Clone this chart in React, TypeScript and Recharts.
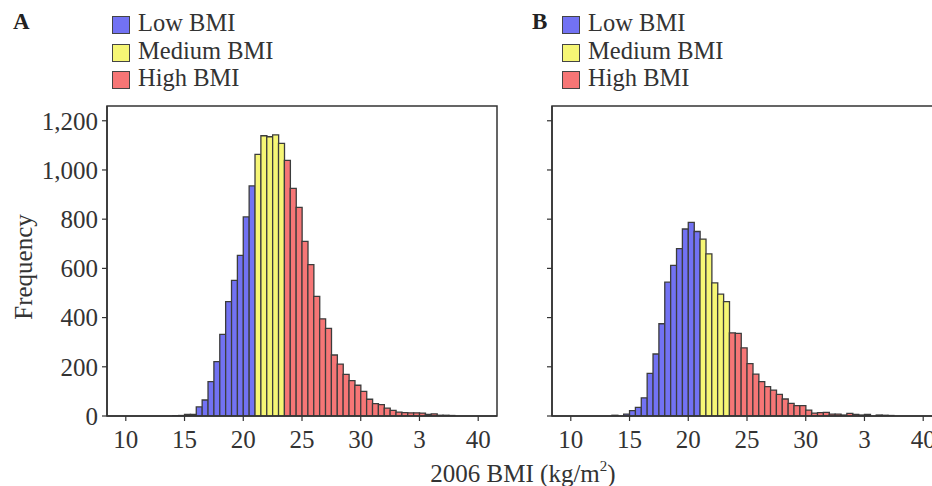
import React from 'react';
import { BarChart, Bar, XAxis, YAxis, Cell, ReferenceArea } from 'recharts';

// left edge of each 0.5-unit BMI bin
const binStarts = [
  13.5, 14, 14.5, 15, 15.5, 16, 16.5, 17, 17.5, 18, 18.5, 19, 19.5, 20, 20.5, 21, 21.5,
  22, 22.5, 23, 23.5, 24, 24.5, 25, 25.5, 26, 26.5, 27, 27.5, 28, 28.5, 29, 29.5, 30,
  30.5, 31, 31.5, 32, 32.5, 33, 33.5, 34, 34.5, 35, 35.5, 36, 36.5, 37, 37.5
];

const countsA = [
  0, 1, 2, 6, 6, 37, 65, 140, 221, 332, 465, 551, 653, 809, 935, 1063, 1139,
  1135, 1143, 1108, 1039, 925, 848, 710, 615, 486, 395, 356, 248, 211, 169, 144, 125, 100,
  68, 50, 46, 32, 23, 16, 14, 13, 13, 12, 6, 9, 3, 3, 2
];

const countsB = [
  3, 0, 8, 22, 35, 74, 173, 252, 375, 544, 612, 680, 760, 787, 750, 719, 659,
  541, 495, 465, 338, 336, 277, 213, 170, 140, 119, 105, 88, 69, 51, 42, 42, 24,
  12, 14, 15, 8, 8, 4, 11, 7, 4, 6, 0, 4, 3, 2, 0
];

const groupNames = ['Low BMI', 'Medium BMI', 'High BMI'];
const groupColors = ['#7272f3', '#f6f675', '#f67676'];
const groupCuts = [21, 23.5]; // bins starting here begin Medium / High

const xTicks = [10, 15, 20, 25, 30, 35, 40];
const xTickLabels = ['10', '15', '20', '25', '30', '3', '40'];
const yTicks = [0, 200, 400, 600, 800, 1000, 1200];
const yTickLabels = ['0', '200', '400', '600', '800', '1,000', '1,200'];
const xDomain = [8.4, 41.6];
const yDomain = [0, 1260];
const binWidth = 0.5;

const FONT = "'Liberation Serif', 'Times New Roman', serif";
const INK = '#333';

const groupOf = (start: number) => (start >= groupCuts[1] ? 2 : start >= groupCuts[0] ? 1 : 0);

const buildRows = (counts: number[]) =>
  binStarts.map((s, i) => ({ x: s + binWidth / 2, count: counts[i], group: groupOf(s) }));

const Legend = ({ letter, left }: { letter: string; left: number }) => (
  <>
    <div
      style={{
        position: 'absolute', left: left, top: 10, fontFamily: FONT, fontWeight: 'bold',
        fontSize: 23, lineHeight: 1, color: '#222'
      }}
    >
      {letter}
    </div>
    {groupNames.map((name, i) => (
      <div key={name} style={{ position: 'absolute', left: left + (letter === 'A' ? 99 : 30), top: 11 + i * 27.5 }}>
        <div
          style={{
            position: 'absolute', left: 0, top: 5, width: 18, height: 18, boxSizing: 'border-box',
            background: groupColors[i], border: '1.5px solid #444'
          }}
        />
        <div
          style={{
            position: 'absolute', left: 26, top: 0, whiteSpace: 'nowrap', fontFamily: FONT,
            fontSize: 24.5, lineHeight: 1, color: INK
          }}
        >
          {name}
        </div>
      </div>
    ))}
  </>
);

const Panel = ({ counts, left, yLabels }: { counts: number[]; left: number; yLabels: boolean }) => {
  const rows = buildRows(counts);
  return (
    <div style={{ position: 'absolute', left, top: 0 }}>
      <BarChart
        width={500}
        height={465}
        data={rows}
        margin={{ top: 106, right: 3, bottom: 4, left: 47 }}
        barCategoryGap={0}
        barGap={0}
      >
        <XAxis
          dataKey="x"
          type="number"
          domain={xDomain}
          allowDataOverflow
          ticks={xTicks}
          tickFormatter={(v: number) => xTickLabels[xTicks.indexOf(v)]}
          height={45}
          tickSize={5}
          tickMargin={9}
          axisLine={{ stroke: INK, strokeWidth: 1.5 }}
          tickLine={{ stroke: INK, strokeWidth: 1.2 }}
          tick={{ fill: INK, fontFamily: FONT, fontSize: 25 }}
          interval={0}
        />
        <YAxis
          type="number"
          domain={yDomain}
          allowDataOverflow
          ticks={yTicks}
          tickFormatter={(v: number) => (yLabels ? yTickLabels[yTicks.indexOf(v)] : '')}
          width={60}
          tickSize={5}
          tickMargin={4}
          axisLine={{ stroke: INK, strokeWidth: 1.5 }}
          tickLine={{ stroke: INK, strokeWidth: 1.2 }}
          tick={{ fill: INK, fontFamily: FONT, fontSize: 25 }}
          interval={0}
        />
        <ReferenceArea
          x1={xDomain[0]}
          x2={xDomain[1]}
          y1={yDomain[0]}
          y2={yDomain[1]}
          fill="none"
          stroke={INK}
          strokeWidth={1.5}
          ifOverflow="visible"
        />
        <Bar dataKey="count" stroke="#3c3c3c" strokeWidth={1.3} isAnimationActive={false}>
          {rows.map((r, i) => (
            <Cell key={`c-${i}`} fill={groupColors[r.group]} />
          ))}
        </Bar>
      </BarChart>
    </div>
  );
};

export default function App() {
  return (
    <div
      style={{
        position: 'absolute', left: 0, top: 0, width: 932, height: 486, overflow: 'hidden',
        background: '#fff'
      }}
    >
      <Legend letter="A" left={13} />
      <Legend letter="B" left={532} />
      <Panel counts={countsA} left={0} yLabels />
      <Panel counts={countsB} left={445} yLabels={false} />
      <div
        style={{
          position: 'absolute', left: 23, top: 267, transform: 'translate(-50%, -50%) rotate(-90deg)',
          fontFamily: FONT, fontSize: 25, lineHeight: 1, color: INK, whiteSpace: 'nowrap'
        }}
      >
        Frequency
      </div>
      <div
        style={{
          position: 'absolute', left: 523, top: 461, transform: 'translateX(-50%)',
          fontFamily: FONT, fontSize: 25, lineHeight: 1, color: INK, whiteSpace: 'nowrap'
        }}
      >
        2006 BMI (kg/m<sup style={{ fontSize: 15, verticalAlign: 'top', position: 'relative', top: -2 }}>2</sup>)
      </div>
    </div>
  );
}
